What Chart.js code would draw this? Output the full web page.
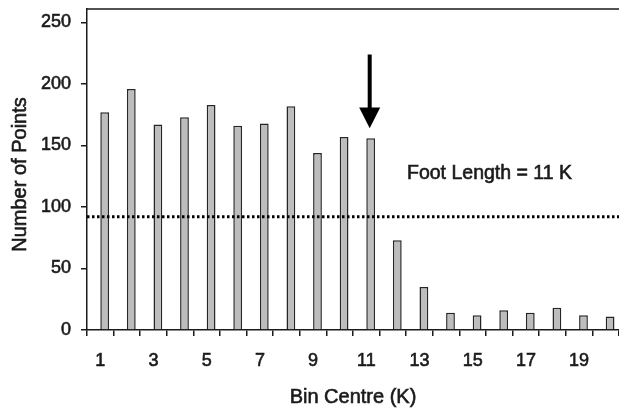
<!DOCTYPE html>
<html>
<head>
<meta charset="utf-8">
<script src="https://cdn.jsdelivr.net/npm/chart.js@4.4.1/dist/chart.umd.min.js"></script>
<style>
  html, body { margin: 0; padding: 0; background: #fff; }
  #wrap { width: 619px; height: 412px; }
</style>
</head>
<body>
<div id="wrap"><canvas id="binChart"></canvas></div>
<script>
// ==================== BIN COUNTS ====================
const binCentres = [1, 2, 3, 4, 5, 6, 7, 8, 9, 10, 11, 12, 13, 14, 15, 16, 17, 18, 19, 20];
const pointCounts = [177, 196, 167, 173, 183, 166, 168, 182, 144, 157, 156, 73, 35, 14, 12, 16, 14, 18, 12, 11];
const labelledBins = [1, 3, 5, 7, 9, 11, 13, 15, 17, 19];
const countTicks = [0, 50, 100, 150, 200, 250];
const thresholdCount = 92;
const footBin = 11;

const FONT = '"Liberation Sans", Arial, sans-serif';
const INK = '#1a1a1a';

function heavyText(ctx, text, x, y, size) {
  ctx.font = size + 'px ' + FONT;
  ctx.fillStyle = INK;
  ctx.strokeStyle = INK;
  ctx.lineWidth = 0.6;
  ctx.fillText(text, x, y);
  ctx.strokeText(text, x, y);
}

// dotted threshold, arrow over the foot bin, frame top, axis titles and the note
const overlayPlugin = {
  id: 'overlay',
  afterDatasetsDraw(chart, args, opts) {
    const { ctx, chartArea: a, scales: { y } } = chart;
    ctx.save();

    ctx.strokeStyle = INK;
    ctx.lineWidth = 1.5;
    ctx.beginPath();
    ctx.moveTo(a.left, a.top);
    ctx.lineTo(a.right, a.top);
    ctx.stroke();

    const ty = y.getPixelForValue(thresholdCount);
    ctx.strokeStyle = '#000';
    ctx.lineWidth = 3;
    ctx.setLineDash([2.5, 2.5]);
    ctx.beginPath();
    ctx.moveTo(a.left, ty);
    ctx.lineTo(a.right, ty);
    ctx.stroke();
    ctx.setLineDash([]);

    const bar = chart.getDatasetMeta(1).data[binCentres.indexOf(footBin)];
    const ax = bar.x - 1;
    const yTop = y.getPixelForValue(opts.arrowFrom);
    const yHead = y.getPixelForValue(opts.arrowHead);
    const yTip = y.getPixelForValue(opts.arrowTo);
    ctx.fillStyle = '#000';
    ctx.fillRect(ax - 2, yTop, 4, yHead - yTop + 1);
    ctx.beginPath();
    ctx.moveTo(ax - 10.5, yHead);
    ctx.lineTo(ax + 10.5, yHead);
    ctx.lineTo(ax, yTip);
    ctx.closePath();
    ctx.fill();

    ctx.textBaseline = 'middle';
    ctx.textAlign = 'left';
    heavyText(ctx, 'Foot Length = 11 K', a.left + 320, y.getPixelForValue(opts.noteAt), 19.5);

    ctx.textAlign = 'center';
    heavyText(ctx, 'Bin Centre (K)', (a.left + a.right) / 2, chart.height - 15, 20);

    ctx.translate(20, (a.top + a.bottom) / 2 + 5);
    ctx.rotate(-Math.PI / 2);
    heavyText(ctx, 'Number of Points', 0, 0, 20);
    ctx.restore();
  }
};

new Chart(document.getElementById('binChart'), {
  type: 'bar',
  data: {
    labels: binCentres,
    datasets: [
      // empty series keeps the bars sitting right of the category centre
      { label: 'gap', data: [] },
      {
        label: 'Number of Points',
        data: pointCounts,
        backgroundColor: '#bdbdbd',
        borderColor: '#262626',
        borderWidth: 1.5,
        borderSkipped: 'bottom'
      }
    ]
  },
  options: {
    responsive: true,
    maintainAspectRatio: false,
    animation: false,
    datasets: { bar: { categoryPercentage: 0.66, barPercentage: 1.0 } },
    layout: { padding: { top: 9, right: 0, bottom: 0, left: 0 } },
    plugins: {
      legend: { display: false },
      tooltip: { enabled: false },
      overlay: { arrowFrom: 224, arrowHead: 181, arrowTo: 164, noteAt: 127 }
    },
    scales: {
      x: {
        grid: { drawOnChartArea: false, drawTicks: true, tickLength: 6, color: INK, lineWidth: 1.5, offset: true },
        border: { color: INK, width: 1.5 },
        ticks: {
          autoSkip: false,
          maxRotation: 0,
          padding: 14,
          color: INK,
          textStrokeColor: INK,
          textStrokeWidth: 0.6,
          font: { family: FONT, size: 18 },
          callback: (v, i) => labelledBins.includes(binCentres[i]) ? String(binCentres[i]) : ''
        },
        afterFit: s => { s.height = 82; s.paddingLeft = 0; s.paddingRight = 0; }
      },
      y: {
        min: 0,
        max: 261,
        afterBuildTicks: s => { s.ticks = countTicks.map(v => ({ value: v })); },
        grid: { drawOnChartArea: false, drawTicks: true, tickLength: 6, color: INK, lineWidth: 1.5 },
        border: { color: INK, width: 1.5 },
        ticks: {
          padding: 10,
          color: INK,
          textStrokeColor: INK,
          textStrokeWidth: 0.6,
          font: { family: FONT, size: 18 }
        },
        afterFit: s => { s.width = 87; s.paddingTop = 0; s.paddingBottom = 0; }
      }
    }
  },
  plugins: [overlayPlugin]
});
</script>
</body>
</html>
